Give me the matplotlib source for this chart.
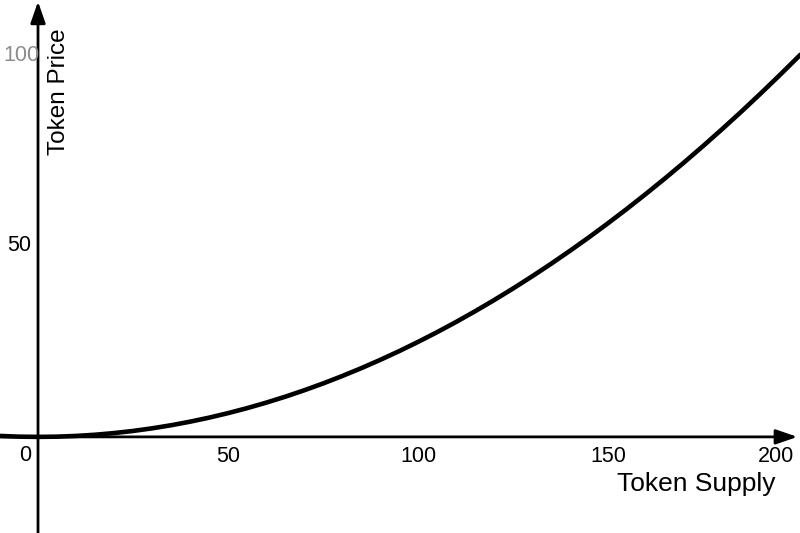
import matplotlib
matplotlib.use("Agg")
import matplotlib.pyplot as plt

# Bonding curve (price vs supply)
supply = [-10, -5, 0, 5, 10, 15, 20, 25, 30, 35, 40, 45, 50, 55, 60, 65, 70,
          75, 80, 85, 90, 95, 100, 105, 110, 115, 120, 125, 130, 135, 140,
          145, 150, 155, 160, 165, 170, 175, 180, 185, 190, 195, 200, 201]
price = [0.25, 0.06, 0, 0.06, 0.25, 0.56, 1, 1.56, 2.25, 3.06, 4, 5.06,
         6.25, 7.56, 9, 10.56, 12.25, 14.06, 16, 18.06, 20.25, 22.56, 25,
         27.56, 30.25, 33.06, 36, 39.06, 42.25, 45.56, 49, 52.56, 56.25,
         60.06, 64, 68.06, 72.25, 76.56, 81, 85.56, 90.25, 95.06, 100, 101]

x_ticks = [50, 100, 150, 200]
y_ticks = [50, 100]
x_label = "Token Supply"
y_label = "Token Price"

plt.rcParams["font.family"] = ["Liberation Sans", "DejaVu Sans"]

fig = plt.figure(figsize=(8, 5.33), dpi=100)
ax = fig.add_axes([0, 0, 1, 1])
ax.set_xlim(-10, 200.5)
ax.set_ylim(-25.3, 115)
ax.set_axis_off()

# axes with arrow heads
arrow = dict(arrowstyle="-|>,head_length=1.3,head_width=0.45",
             mutation_scale=10, lw=2, color="black", shrinkA=0, shrinkB=0)
ax.annotate("", xy=(199.8, 0), xytext=(-10, 0), arrowprops=arrow)
ax.annotate("", xy=(0, 114.6), xytext=(0, -25.3), arrowprops=arrow)

ax.plot(supply, price, color="black", lw=3.3, solid_capstyle="butt",
        solid_joinstyle="round", zorder=3)

fs = 15.5
ax.text(-3.4, -2.1, "0", ha="center", va="top", fontsize=fs)
for t in x_ticks:
    xt = t - 5.8 if t == x_ticks[-1] else t
    ax.text(xt, -2.3, str(t), ha="center", va="top", fontsize=fs)
for t in y_ticks:
    color = "#8c8c8c" if t == y_ticks[-1] else "black"
    xt = 0.5 if t == y_ticks[-1] else -1.8
    ax.text(xt, t + 0.5, str(t), ha="right", va="center", fontsize=fs,
            color=color)

ax.text(194, -9.2, x_label, ha="right", va="top", fontsize=19)
ax.text(2.6, 107.6, y_label, ha="left", va="top", rotation=90, fontsize=17.5)

fig.savefig("out.png", dpi=100)
